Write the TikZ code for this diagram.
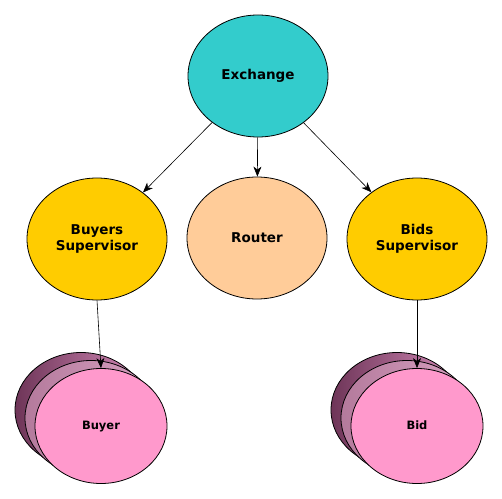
\documentclass[tikz,border=0pt]{standalone}
\usepackage{fontspec}
\setmainfont{DejaVu Sans}
\usetikzlibrary{shapes.geometric,arrows.meta}
\definecolor{cyanfill}{HTML}{33CCCC}
\definecolor{goldfill}{HTML}{FFCC00}
\definecolor{peachfill}{HTML}{FFCC99}
\definecolor{pinkfill}{HTML}{FF99CC}
\definecolor{backdark}{HTML}{6E3558}
\definecolor{backlight}{HTML}{D68CBA}
\definecolor{middark}{HTML}{B47A9C}
\definecolor{midlight}{HTML}{D9A2C2}
\tikzset{
  bigell/.style={ellipse, draw=black, line width=0.8pt, minimum width=140pt, minimum height=122pt, inner sep=0pt,
    font=\fontsize{13.5}{16}\selectfont\bfseries, align=center},
  stackell/.style={ellipse, draw=black, line width=0.8pt, minimum width=132pt, minimum height=115pt, inner sep=0pt,
    font=\fontsize{11.5}{14}\selectfont\bfseries, text height=8.5pt, text depth=2.5pt},
  backell/.style={stackell, left color=backdark, right color=backlight},
  midell/.style={stackell, left color=middark, right color=midlight},
  frontell/.style={stackell, fill=pinkfill},
  conn/.style={draw=black, line width=0.6pt, -{Stealth[length=10pt,width=8pt,inset=3pt]}}
}
\begin{document}
\begin{tikzpicture}[x=1pt,y=1pt]
\useasboundingbox (0,0) rectangle (502,498);
\node[bigell, fill=cyanfill] (ex) at (258,422) {Exchange};
\node[bigell, fill=goldfill] (bs) at (97,259) {Buyers\\Supervisor};
\node[bigell, fill=peachfill] (rt) at (257,260) {Router};
\node[bigell, fill=goldfill] (bds) at (417,259) {Bids\\Supervisor};
% Buyer stack
\node[backell] (buyerback) at (81,88) {};
\node[midell] (buyermid) at (91,80) {};
\node[frontell] (buyer) at (101,72) {Buyer};
% Bid stack
\node[backell] (bidback) at (397,88) {};
\node[midell] (bidmid) at (407,80) {};
\node[frontell] (bid) at (417,72) {Bid};
\draw[conn] (ex) -- (bs);
\draw[conn] (ex) -- (rt);
\draw[conn] (ex) -- (bds);
\draw[conn] (bs.south) -- (buyer.north);
\draw[conn] (bds.south) -- (bid.north);
\end{tikzpicture}
\end{document}
